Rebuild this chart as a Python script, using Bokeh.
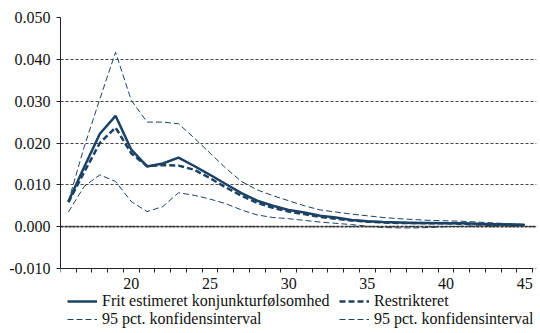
from bokeh.plotting import figure
from bokeh.models import (Range1d, FixedTicker, NumeralTickFormatter, Legend, LegendItem, Span)
from bokeh.embed import file_html
from bokeh.resources import INLINE

years = list(range(16, 46))
frit = [0.0060, 0.0142, 0.0222, 0.0265, 0.0184, 0.0144, 0.0151, 0.0165, 0.0145, 0.0124,
        0.0102, 0.0080, 0.0062, 0.0050, 0.0040, 0.0034, 0.0026, 0.0022, 0.0016, 0.0013,
        0.0011, 0.0010, 0.0009, 0.0009, 0.0008, 0.0008, 0.0007, 0.0006, 0.0005, 0.0004]
restrikteret = [0.0058, 0.0130, 0.0200, 0.0237, 0.0175, 0.0145, 0.0147, 0.0146, 0.0136, 0.0116,
                0.0094, 0.0074, 0.0057, 0.0045, 0.0036, 0.0030, 0.0023, 0.0019, 0.0015, 0.0012,
                0.0010, 0.0009, 0.0009, 0.0008, 0.0008, 0.0007, 0.0006, 0.0005, 0.0005, 0.0004]
ci_upper = [0.0060, 0.0190, 0.0305, 0.0417, 0.0302, 0.0250, 0.0250, 0.0246, 0.0212, 0.0176,
            0.0140, 0.0108, 0.0088, 0.0074, 0.0062, 0.0050, 0.0040, 0.0035, 0.0030, 0.0026,
            0.0022, 0.0019, 0.0017, 0.0015, 0.0014, 0.0013, 0.0011, 0.0009, 0.0007, 0.0005]
ci_lower = [0.0035, 0.0096, 0.0124, 0.0108, 0.0060, 0.0036, 0.0048, 0.0081, 0.0075, 0.0066,
            0.0055, 0.0040, 0.0028, 0.0022, 0.0019, 0.0015, 0.0011, 0.0008, 0.0005, 0.0001,
            -0.0002, -0.0003, -0.0003, -0.0002, 0.0000, 0.0001, 0.0002, 0.0003, 0.0003, 0.0003]
y_ticks = [-0.010, 0.000, 0.010, 0.020, 0.030, 0.040, 0.050]
x_labels = [20, 25, 30, 35, 40, 45]
labels = ["Frit estimeret konjunkturfølsomhed", "Restrikteret",
          "95 pct. konfidensinterval", "95 pct. konfidensinterval"]

FONT = "Liberation Serif"
COL = "#1B4265"
Y_MIN, Y_MAX = y_ticks[0], y_ticks[-1]
X_MIN, X_MAX = years[0] - 0.5, years[-1] + 0.5
H = 328
TOP = 17
FRAME_H = H - TOP
# extra room below the x axis (inside the frame) for the legend
Y_START = Y_MAX - FRAME_H / 251 * (Y_MAX - Y_MIN)
# a few pixels of extra room on the right so the last legend label fits
X_END = X_MAX + 4 * (X_MAX - X_MIN) / 472

p = figure(width=537, height=H, output_backend="svg", toolbar_location=None,
           x_range=Range1d(X_MIN, X_END), y_range=Range1d(Y_START, Y_MAX),
           min_border_left=60, min_border_right=1, min_border_top=TOP, min_border_bottom=0)
p.outline_line_color = None
p.xgrid.visible = False
p.ygrid.grid_line_color = "#444444"
p.ygrid.grid_line_dash = "3 2"
p.ygrid.grid_line_width = 1
p.ygrid.bounds = (X_MIN, X_MAX)

zero = Span(location=0.0, dimension="width", line_color="#333333", line_width=1.6, line_dash="3 1")
p.add_layout(zero)

r_up = p.line(years, ci_upper, line_color=COL, line_width=1, line_dash="6 3")
r_lo = p.line(years, ci_lower, line_color=COL, line_width=1, line_dash="6 3")
r_re = p.line(years, restrikteret, line_color=COL, line_width=2.5, line_dash="6 3")
r_fr = p.line(years, frit, line_color=COL, line_width=2.5)

# axes
p.yaxis.ticker = FixedTicker(ticks=y_ticks)
p.yaxis.bounds = (Y_MIN, Y_MAX)
p.yaxis.formatter = NumeralTickFormatter(format="0.000")
p.yaxis.major_tick_out = 4
p.yaxis.major_tick_in = 0
p.yaxis.minor_tick_out = 0
p.yaxis.major_label_standoff = 6
p.yaxis.axis_line_color = "#222222"
p.yaxis.major_tick_line_color = "#222222"

p.xaxis.fixed_location = Y_MIN
p.xaxis.bounds = (X_MIN, X_MAX)
p.xaxis.ticker = FixedTicker(ticks=x_labels, minor_ticks=[y + 0.5 for y in range(15, 46)])
p.xaxis.major_tick_out = 0
p.xaxis.major_tick_in = 0
p.xaxis.minor_tick_out = 4
p.xaxis.minor_tick_in = 0
p.xaxis.major_label_standoff = 5
p.xaxis.axis_line_color = "#222222"
p.xaxis.minor_tick_line_color = "#222222"

for ax in (p.xaxis, p.yaxis):
    ax.major_label_text_font = FONT
    ax.major_label_text_font_size = "16px"
    ax.major_label_text_color = "#111111"


def make_legend(items, x):
    lg = Legend(items=items, orientation="vertical", location=(x, 0))
    lg.label_text_font = FONT
    lg.label_text_font_size = "16px"
    lg.label_text_color = "#111111"
    lg.glyph_width = 30
    lg.glyph_height = 16
    lg.label_height = 16
    lg.label_standoff = 5
    lg.spacing = 0
    lg.padding = 0
    lg.margin = 0
    lg.border_line_color = None
    lg.background_fill_alpha = 0
    return lg


leg1 = make_legend([LegendItem(label=labels[0], renderers=[r_fr]),
                    LegendItem(label=labels[2], renderers=[r_up])], 7)
leg2 = make_legend([LegendItem(label=labels[1], renderers=[r_re]),
                    LegendItem(label=labels[3], renderers=[r_lo])], 279)
p.add_layout(leg1)
p.add_layout(leg2)

open("out.html", "w").write(file_html(p, INLINE))
